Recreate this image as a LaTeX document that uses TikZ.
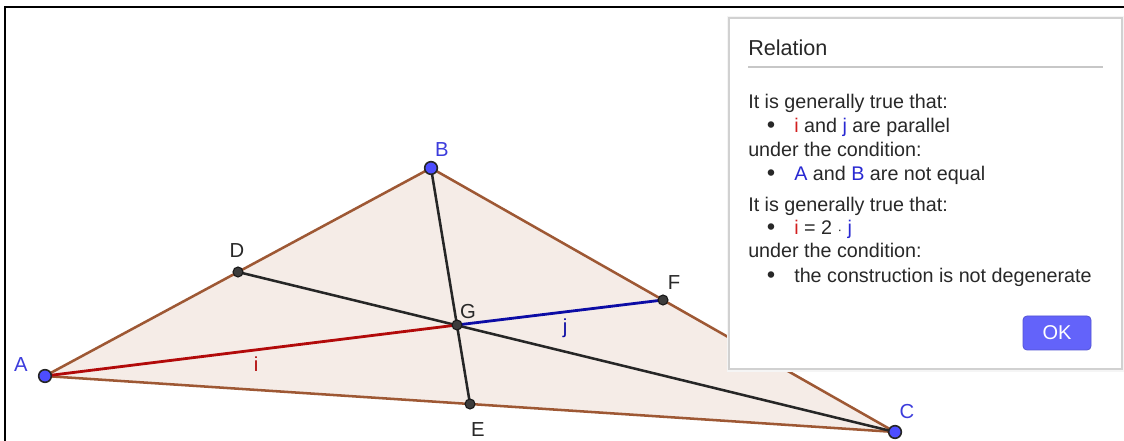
\documentclass[tikz,border=0pt]{standalone}
\usepackage{fontspec}
\setmainfont{Liberation Sans}
\definecolor{triedge}{RGB}{158,88,52}
\definecolor{trifill}{RGB}{245,236,231}
\definecolor{segred}{RGB}{178,10,10}
\definecolor{segblue}{RGB}{12,12,165}
\definecolor{ptblue}{RGB}{77,77,255}
\definecolor{ptdark}{RGB}{60,60,60}
\definecolor{lblblue}{RGB}{60,60,220}
\definecolor{txtred}{RGB}{210,30,30}
\definecolor{txtblue}{RGB}{40,40,210}
\definecolor{okblue}{RGB}{99,99,250}
\definecolor{txtgray}{RGB}{40,40,40}
\tikzset{
  bpt/.style={circle,fill=ptblue,draw=black!85,line width=1.2pt,inner sep=0pt,minimum size=9.5pt},
  dpt/.style={circle,fill=ptdark,draw=black!90,line width=0.8pt,inner sep=0pt,minimum size=7.5pt},
  lbl/.style={font=\fontsize{15.2}{18}\selectfont,inner sep=1pt},
  dtxt/.style={font=\fontsize{14.8}{17}\selectfont,text=txtgray,anchor=base west,inner sep=0pt},
  bul/.style={font=\fontsize{17}{17}\selectfont\bfseries,text=txtgray,anchor=base,inner sep=0pt},
  median/.style={draw=black!85,line width=1.9pt},
}
\begin{document}
\begin{tikzpicture}[x=0.75pt,y=-0.75pt]
\useasboundingbox (0,0) rectangle (1124,441);
\fill[white] (0,0) rectangle (1124,441);
% frame
\draw[black,line width=1.6pt] (5,441) -- (5,7) -- (1124,7);
% points
\coordinate (A) at (45,376);
\coordinate (B) at (431,168);
\coordinate (C) at (895,432);
\coordinate (D) at (238,272);
\coordinate (E) at (470,404);
\coordinate (F) at (663,300);
\coordinate (G) at (457,325);
% triangle
\draw[triedge,fill=trifill,line width=1.9pt,line join=round] (A) -- (B) -- (C) -- cycle;
% medians
\draw[median] (B) -- (E);
\draw[median] (C) -- (D);
\draw[segred,line width=2.1pt] (A) -- (G);
\draw[segblue,line width=2.1pt] (G) -- (F);
% point markers
\node[bpt] (pA) at (A) {};
\node[bpt] (pB) at (B) {};
\node[bpt] (pC) at (C) {};
\node[dpt] (pD) at (D) {};
\node[dpt] (pE) at (E) {};
\node[dpt] (pF) at (F) {};
\node[dpt] (pG) at (G) {};
% labels
\node[lbl,text=lblblue] (lA) at (21,365) {A};
\node[lbl,text=lblblue] (lB) at (442,150) {B};
\node[lbl,text=lblblue] (lC) at (907,412) {C};
\node[lbl,text=txtgray] (lD) at (237,251) {D};
\node[lbl,text=txtgray] (lE) at (478,430) {E};
\node[lbl,text=txtgray] (lF) at (674,283) {F};
\node[lbl,text=txtgray] (lG) at (468,312) {G};
\node[lbl,text=segred] (li) at (256,364) {i};
\node[lbl,text=segblue] (lj) at (565,328) {j};
% dialog
\fill[black!8] (728,17) rectangle (1124,371);
\fill[black!4] (727,16) rectangle (1125,372);
\draw[black!18,fill=white,line width=0.8pt] (729,18) rectangle (1122,369);
\node[dtxt,font=\fontsize{16.2}{19}\selectfont] (title) at (748,56) {Relation};
\draw[black!22,line width=0.9pt] (748,67) -- (1103,67);
\node[dtxt] (t1) at (748,109) {It is generally true that:};
\node[bul] (b1) at (771,133) {•};
\node[dtxt] (t2) at (794,133) {\textcolor{txtred}{i} and \textcolor{txtblue}{j} are parallel};
\node[dtxt] (t3) at (748,157) {under the condition:};
\node[bul] (b2) at (771,181) {•};
\node[dtxt] (t4) at (794,181) {\textcolor{txtblue}{A} and \textcolor{txtblue}{B} are not equal};
\node[dtxt] (t5) at (748,212) {It is generally true that:};
\node[bul] (b3) at (771,235) {•};
\node[dtxt] (t6) at (794,235) {\textcolor{txtred}{i} = 2 {\fontsize{10}{12}\selectfont·} \textcolor{txtblue}{j}};
\node[dtxt] (t7) at (748,258) {under the condition:};
\node[bul] (b4) at (771,283) {•};
\node[dtxt] (t8) at (794,283) {the construction is not degenerate};
% OK button
\node[fill=okblue,draw=okblue!85!black,line width=0.6pt,rounded corners=3pt,minimum width=51pt,minimum height=25.5pt,inner sep=0pt,text=white,font=\fontsize{15}{18}\selectfont] (ok) at (1057,333) {OK};
\end{tikzpicture}
\end{document}
